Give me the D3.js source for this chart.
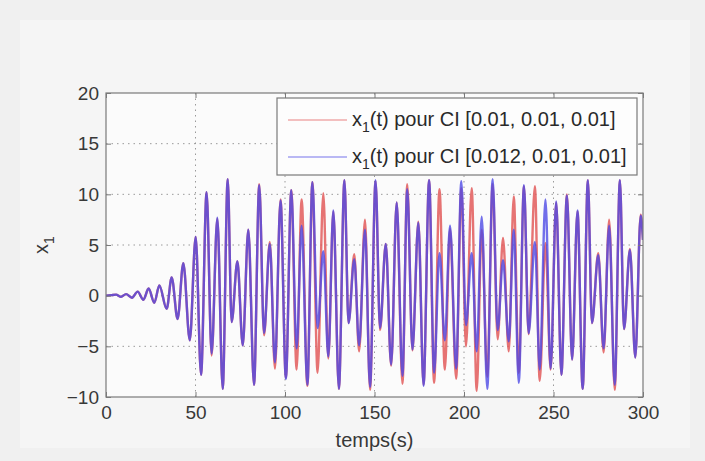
<!DOCTYPE html>
<html>
<head>
<meta charset="utf-8">
<script src="https://cdn.jsdelivr.net/npm/d3@7"></script>
<style>
  body { margin: 0; background: #f0f0f0; }
  svg { display: block; font-family: "Liberation Sans", Arial, sans-serif; }
</style>
</head>
<body>
<svg id="chart" width="705" height="461"></svg>
<script>
// time of each local extremum (s)
const extremaTimes = [0, 2.8, 5.6, 8.4, 11.2, 14.5, 17.7, 20.9, 23.8, 27.0, 29.8, 33.9, 36.7, 40.0, 43.2, 46.8,
  50.1, 53.1, 56.2, 59.0, 62.2, 65.2, 68.0, 70.2, 73.4, 76.4, 79.5, 82.7, 85.6, 88.3, 91.5, 94.4, 97.5,
  100.5, 103.5, 106.5, 109.3, 112.5, 115.3, 118.2, 121.4, 124.2, 127.0, 130.1, 133.2, 135.5, 138.7, 141.4,
  144.7, 147.5, 150.6, 153.1, 156.3, 159.3, 162.4, 165.6, 168.3, 171.2, 174.5, 177.4, 180.5, 183.3, 186.3,
  189.3, 192.2, 195.6, 198.5, 201.1, 204.3, 207.1, 209.9, 213.0, 216.0, 218.8, 221.8, 225.0, 227.8, 230.6,
  233.5, 236.1, 239.6, 242.3, 245.5, 248.4, 251.5, 254.4, 257.5, 260.4, 263.4, 266.3, 269.2, 271.5, 275.0,
  278.0, 281.1, 284.2, 287.1, 289.4, 292.7, 295.7, 298.7, 300];

// x1(t), CI [0.01, 0.01, 0.01]
const x1Red = [0, 0.05, 0.1, -0.1, 0.15, -0.2, 0.4, -0.4, 0.7, -0.7, 1.0, -1.3, 1.8, -2.3, 3.2, -4.4,
  5.8, -7.8, 10.2, -5.9, 7.6, -9.2, 11.5, -2.6, 3.4, -4.9, 6.5, -8.8, 11.0, -3.9, 5.3, -7.2, 9.5,
  -8.1, 10.4, -7.3, 9.5, -8.9, 11.2, -7.6, 10.1, -6.2, 8.3, -9.2, 11.4, -2.7, 4.1, -5.5,
  7.5, -9.3, 11.3, -3.4, 5.1, -6.9, 9.2, -8.7, 11.0, -5.4, 7.3, -8.8, 11.4, -8.6, 10.5,
  -7.3, 6.6, -8.2, 10.6, -5.0, 10.6, -9.4, 6.5, -8.0, 11.0, -4.3, 5.7, -5.5, 9.8, -7.6,
  10.8, -3.8, 10.8, -8.4, 5.2, -7.3, 9.2, -7.8, 10.0, -6.3, 8.3, -9.2, 11.4, -2.7, 4.2,
  -5.6, 7.5, -9.3, 11.4, -3.3, 4.6, -6.1, 8.0, 5.5];

// x1(t), CI [0.012, 0.01, 0.01]
const x1Blue = [0, 0.05, 0.1, -0.1, 0.15, -0.2, 0.4, -0.4, 0.7, -0.7, 1.0, -1.3, 1.8, -2.3, 3.2, -4.4,
  5.8, -7.8, 10.2, -5.7, 7.7, -9.2, 11.5, -2.6, 3.4, -4.9, 6.5, -8.8, 10.9, -3.7, 5.1, -6.6, 9.4,
  -8.2, 10.4, -5.2, 6.9, -8.8, 11.2, -3.2, 4.4, -6.0, 8.4, -9.2, 11.4, -2.7, 3.6, -4.9,
  6.5, -9.0, 11.4, -3.2, 5.1, -6.8, 9.2, -7.9, 10.5, -5.3, 7.2, -8.9, 11.4, -7.6, 4.2,
  -4.4, 6.9, -7.2, 11.3, -2.9, 4.2, -5.5, 7.8, -9.2, 11.5, -3.4, 3.5, -4.5, 6.5, -8.6,
  10.9, -3.7, 5.3, -7.3, 9.5, -7.2, 9.3, -7.8, 9.9, -6.3, 8.4, -9.2, 11.4, -2.7, 4.0,
  -5.2, 6.9, -8.8, 11.4, -3.3, 4.5, -6.1, 7.9, 5.5];

const xTicks = [0, 50, 100, 150, 200, 250, 300];
const yTicks = [-10, -5, 0, 5, 10, 15, 20];
const legendLabels = [
  { main: "x", sub: "1", rest: "(t) pour CI [0.01, 0.01, 0.01]", color: "#e25a5a" },
  { main: "x", sub: "1", rest: "(t) pour CI [0.012, 0.01, 0.01]", color: "#4a46e6" }
];

const plot = { left: 106, right: 643, top: 93, bottom: 397 };
const textColor = "#383838";

const svg = d3.select("#chart");

// figure background
svg.append("rect")
  .attr("x", 20).attr("y", 20).attr("width", 670).attr("height", 428)
  .attr("fill", "#f5f5f5");

const x = d3.scaleLinear().domain([0, 300]).range([plot.left, plot.right]);
const y = d3.scaleLinear().domain([-10, 20]).range([plot.bottom, plot.top]);

svg.append("rect")
  .attr("x", plot.left).attr("y", plot.top)
  .attr("width", plot.right - plot.left).attr("height", plot.bottom - plot.top)
  .attr("fill", "#fbfbfb");

// dotted grid
const grid = svg.append("g").attr("stroke", "#9a9a9a").attr("stroke-width", 1).attr("stroke-dasharray", "1.5,4");
grid.selectAll(".gx").data(xTicks.slice(1, -1)).join("line")
  .attr("x1", d => x(d)).attr("x2", d => x(d))
  .attr("y1", plot.top).attr("y2", plot.bottom);
grid.selectAll(".gy").data(yTicks.slice(1, -1)).join("line")
  .attr("x1", plot.left).attr("x2", plot.right)
  .attr("y1", d => y(d)).attr("y2", d => y(d));

svg.append("clipPath").attr("id", "clip")
  .append("rect")
  .attr("x", plot.left).attr("y", plot.top)
  .attr("width", plot.right - plot.left).attr("height", plot.bottom - plot.top);

const line = d3.line()
  .x(d => x(d[0]))
  .y(d => y(d[1]))
  .curve(d3.curveMonotoneX);

const series = [
  { values: x1Red, color: legendLabels[0].color, opacity: 0.85 },
  { values: x1Blue, color: legendLabels[1].color, opacity: 0.78 }
];

svg.append("g").attr("clip-path", "url(#clip)")
  .selectAll("path").data(series).join("path")
  .attr("d", s => line(extremaTimes.map((t, i) => [t, s.values[i]])))
  .attr("fill", "none")
  .attr("stroke", s => s.color)
  .attr("stroke-opacity", s => s.opacity)
  .attr("stroke-width", 2.4)
  .attr("stroke-linejoin", "round");

// axes, ticks pointing inwards on all four sides
const axisColor = "#7a7a7a";
const tickLen = 5;
const styleAxis = g => {
  g.select(".domain").remove();
  g.selectAll(".tick line").attr("stroke", axisColor);
  g.selectAll(".tick text").attr("fill", textColor).attr("font-size", 19);
};

svg.append("g")
  .attr("transform", `translate(0,${plot.bottom})`)
  .call(d3.axisBottom(x).tickValues(xTicks).tickSizeInner(-tickLen).tickSizeOuter(0).tickPadding(9))
  .call(styleAxis);
svg.append("g")
  .attr("transform", `translate(0,${plot.top})`)
  .call(d3.axisTop(x).tickValues(xTicks).tickSizeInner(-tickLen).tickSizeOuter(0).tickFormat(""))
  .call(styleAxis);
svg.append("g")
  .attr("transform", `translate(${plot.left},0)`)
  .call(d3.axisLeft(y).tickValues(yTicks).tickSizeInner(-tickLen).tickSizeOuter(0).tickPadding(7))
  .call(styleAxis);
svg.append("g")
  .attr("transform", `translate(${plot.right},0)`)
  .call(d3.axisRight(y).tickValues(yTicks).tickSizeInner(-tickLen).tickSizeOuter(0).tickFormat(""))
  .call(styleAxis);

svg.append("rect")
  .attr("x", plot.left).attr("y", plot.top)
  .attr("width", plot.right - plot.left).attr("height", plot.bottom - plot.top)
  .attr("fill", "none").attr("stroke", axisColor).attr("stroke-width", 1.2);

// axis titles
svg.append("text")
  .attr("x", (plot.left + plot.right) / 2).attr("y", 447)
  .attr("text-anchor", "middle").attr("font-size", 20).attr("fill", textColor)
  .text("temps(s)");

const yTitle = svg.append("text")
  .attr("transform", `translate(48,${(plot.top + plot.bottom) / 2}) rotate(-90)`)
  .attr("text-anchor", "middle").attr("font-size", 20).attr("fill", textColor);
yTitle.append("tspan").text("x");
yTitle.append("tspan").attr("dy", 6).attr("font-size", 14).text("1");

// legend
const legend = svg.append("g");
legend.append("rect")
  .attr("x", 277).attr("y", 98).attr("width", 360).attr("height", 77)
  .attr("fill", "#fdfdfd").attr("stroke", axisColor).attr("stroke-width", 1.2);

const rows = legend.selectAll(".row").data(legendLabels).join("g")
  .attr("transform", (d, i) => `translate(0,${120 + i * 37})`);
rows.append("line")
  .attr("x1", 288).attr("x2", 347)
  .attr("stroke", d => d.color).attr("stroke-opacity", 0.75).attr("stroke-width", 1.2);
const labels = rows.append("text")
  .attr("x", 352).attr("y", 6)
  .attr("font-size", 20).attr("fill", "#2a2a2a");
labels.append("tspan").text(d => d.main);
labels.append("tspan").attr("dy", 6).attr("font-size", 14).text(d => d.sub);
labels.append("tspan").attr("dy", -6).text(d => d.rest);
</script>
</body>
</html>
